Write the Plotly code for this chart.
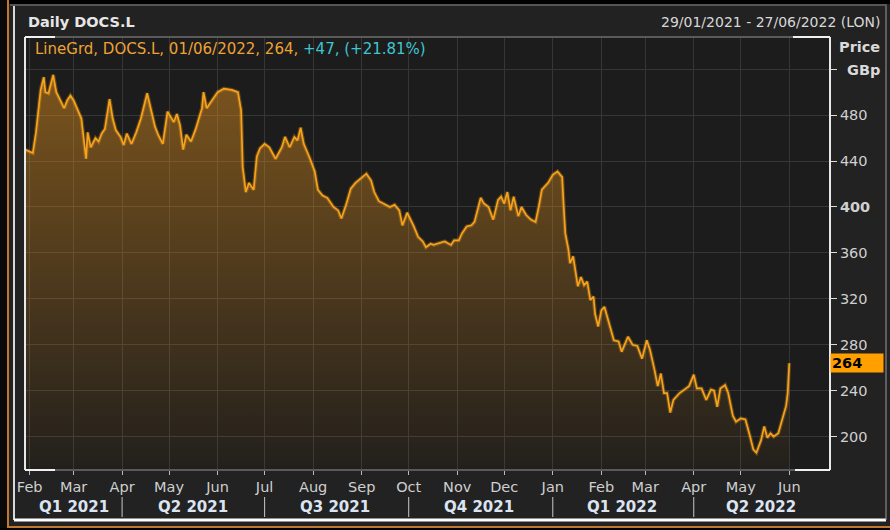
import plotly.graph_objects as go

# ---------------- data ----------------
dates = [
    "2021-01-29", "2021-02-03", "2021-02-05", "2021-02-08", "2021-02-10", "2021-02-11",
    "2021-02-13", "2021-02-16", "2021-02-18", "2021-02-20", "2021-02-23", "2021-02-25",
    "2021-02-27", "2021-03-01", "2021-03-03", "2021-03-06", "2021-03-09", "2021-03-10",
    "2021-03-12", "2021-03-15", "2021-03-17", "2021-03-19", "2021-03-21", "2021-03-24",
    "2021-03-26", "2021-03-28", "2021-03-31", "2021-04-02", "2021-04-04", "2021-04-07",
    "2021-04-10", "2021-04-13", "2021-04-17", "2021-04-20", "2021-04-22", "2021-04-24",
    "2021-04-27", "2021-04-30", "2021-05-04", "2021-05-06", "2021-05-08", "2021-05-10",
    "2021-05-12", "2021-05-15", "2021-05-18", "2021-05-22", "2021-05-23", "2021-05-25",
    "2021-05-28", "2021-06-01", "2021-06-05", "2021-06-10", "2021-06-14", "2021-06-16",
    "2021-06-17", "2021-06-19", "2021-06-21", "2021-06-24", "2021-06-26", "2021-06-28",
    "2021-07-01", "2021-07-04", "2021-07-08", "2021-07-12", "2021-07-14", "2021-07-17",
    "2021-07-20", "2021-07-22", "2021-07-24", "2021-07-26", "2021-07-30", "2021-08-02",
    "2021-08-04", "2021-08-07", "2021-08-10", "2021-08-14", "2021-08-17", "2021-08-19",
    "2021-08-22", "2021-08-25", "2021-08-28", "2021-09-01", "2021-09-04", "2021-09-07",
    "2021-09-09", "2021-09-12", "2021-09-15", "2021-09-19", "2021-09-22", "2021-09-25",
    "2021-09-27", "2021-09-30", "2021-10-04", "2021-10-07", "2021-10-10", "2021-10-12",
    "2021-10-15", "2021-10-17", "2021-10-19", "2021-10-24", "2021-10-28", "2021-10-30",
    "2021-11-02", "2021-11-04", "2021-11-07", "2021-11-10", "2021-11-12", "2021-11-14",
    "2021-11-16", "2021-11-18", "2021-11-21", "2021-11-24", "2021-11-27", "2021-11-29",
    "2021-12-01", "2021-12-03", "2021-12-05", "2021-12-07", "2021-12-10", "2021-12-12",
    "2021-12-15", "2021-12-18", "2021-12-21", "2021-12-23", "2021-12-25", "2021-12-29",
    "2022-01-01", "2022-01-04", "2022-01-07", "2022-01-08", "2022-01-09", "2022-01-11",
    "2022-01-12", "2022-01-14", "2022-01-16", "2022-01-17", "2022-01-19", "2022-01-21",
    "2022-01-23", "2022-01-25", "2022-01-27", "2022-01-28", "2022-01-30", "2022-02-01",
    "2022-02-03", "2022-02-06", "2022-02-09", "2022-02-12", "2022-02-14", "2022-02-18",
    "2022-02-21", "2022-02-24", "2022-02-27", "2022-03-02", "2022-03-04", "2022-03-07",
    "2022-03-09", "2022-03-11", "2022-03-13", "2022-03-15", "2022-03-17", "2022-03-19",
    "2022-03-23", "2022-03-26", "2022-03-29", "2022-04-01", "2022-04-03", "2022-04-06",
    "2022-04-09", "2022-04-12", "2022-04-14", "2022-04-16", "2022-04-18", "2022-04-21",
    "2022-04-23", "2022-04-26", "2022-04-28", "2022-05-01", "2022-05-04", "2022-05-07",
    "2022-05-09", "2022-05-11", "2022-05-14", "2022-05-16", "2022-05-18", "2022-05-20",
    "2022-05-22", "2022-05-25", "2022-05-27", "2022-05-29", "2022-05-30", "2022-05-31",
    "2022-06-01",
]
prices = [
    450, 447, 465, 502, 513, 500,
    499, 515, 500, 494, 486, 493,
    497, 493, 486, 477, 442, 465,
    452, 460, 457, 464, 468, 494,
    477, 467, 461, 454, 464, 455,
    465, 477, 499, 483, 470, 463,
    455, 483, 474, 481, 471, 450,
    463, 457, 468, 486, 500, 486,
    492, 500, 503, 502, 500, 484,
    435, 413, 421, 415, 444, 451,
    455, 452, 442, 452, 461, 452,
    461, 458, 469, 455, 442, 431,
    415, 410, 408, 400, 397, 390,
    402, 416, 421, 426, 429, 423,
    413, 405, 403, 400, 402, 397,
    384, 395, 384, 374, 370, 365,
    368, 367, 368, 370, 367, 371,
    371, 377, 383, 384, 387, 397,
    408, 403, 400, 389, 406, 409,
    403, 413, 397, 409, 392, 400,
    393, 389, 387, 400, 415, 421,
    428, 431, 426, 400, 377, 363,
    351, 357, 342, 331, 339, 332,
    335, 319, 322, 307, 296, 310,
    313, 299, 284, 283, 274, 287,
    280, 279, 268, 284, 276, 258,
    244, 255, 238, 238, 221, 232,
    238, 241, 244, 254, 242, 242,
    232, 241, 240, 226, 242, 245,
    238, 218, 213, 216, 215, 200,
    189, 186, 197, 209, 199, 203,
    200, 203, 212, 221, 227, 238,
    264,
]

y_ticks = [200, 240, 280, 320, 360, 400, 440, 480, 520]
y_tick_text = ["200", "240", "280", "320", "360", "<b>400</b>", "440", "480", ""]

quarter_starts = ["2021-04-01", "2021-07-01", "2021-10-01", "2022-01-01", "2022-04-01"]
quarter_mids = ["2021-03-01", "2021-05-16", "2021-08-15", "2021-11-15", "2022-02-14", "2022-05-14"]
quarter_labels = ["Q1 2021", "Q2 2021", "Q3 2021", "Q4 2021", "Q1 2022", "Q2 2022"]

last_price = 264
x_range = ["2021-01-29", "2022-06-27"]
y_range = [171, 548]

# ---------------- figure ----------------
W, H = 890, 530
L, R, T, B = 25, 60, 37, 60
PW, PH = W - L - R, H - T - B


def px(xp):
    return (xp - L) / PW


def py(yp):
    return (H - B - yp) / PH


FONT = "DejaVu Sans"
ORANGE = "#f7a21b"
fig = go.Figure()
fig.add_trace(go.Scatter(
    x=dates, y=prices, mode="lines",
    line=dict(color="rgba(247,162,27,0)", width=0),
    fill="tozeroy",
    fillgradient=dict(
        type="vertical", start=y_range[0], stop=y_range[1],
        colorscale=[[0, "rgba(235,150,30,0.03)"], [1, "rgba(235,150,30,0.50)"]],
    ),
    hoverinfo="skip", showlegend=False,
))
# soft glow under the price line
fig.add_trace(go.Scatter(
    x=dates, y=prices, mode="lines",
    line=dict(color="rgba(247,162,27,0.28)", width=4),
    hoverinfo="skip", showlegend=False,
))
fig.add_trace(go.Scatter(
    x=dates, y=prices, mode="lines",
    line=dict(color=ORANGE, width=1.7),
    hoverinfo="skip", showlegend=False,
))

shapes = []
# frame of plot area
shapes.append(dict(type="line", xref="paper", yref="paper", x0=0, x1=1, y0=1, y1=1,
                   line=dict(color="#5a5a5a", width=2)))
shapes.append(dict(type="line", xref="paper", yref="paper", x0=0, x1=1, y0=0, y1=0,
                   line=dict(color="#5a5a5a", width=2)))
shapes.append(dict(type="line", xref="paper", yref="paper", x0=0, x1=0, y0=0, y1=1,
                   line=dict(color="#e8e8e8", width=2)))
shapes.append(dict(type="line", xref="paper", yref="paper", x0=1, x1=1, y0=0, y1=1,
                   line=dict(color="#e8e8e8", width=2)))
for (a, b, yy) in [(25, 55, 1), (25, 55, 0), (793, 830, 1), (795, 830, 0)]:
    shapes.append(dict(type="line", xref="paper", yref="paper", x0=px(a), x1=px(b), y0=yy, y1=yy,
                       line=dict(color="#f0f0f0", width=2)))
# outer panel decorations
shapes.append(dict(type="rect", xref="paper", yref="paper", x0=px(-5), x1=px(W + 5), y0=py(-5), y1=py(4),
                   fillcolor="#000000", line=dict(width=0), layer="below"))
shapes.append(dict(type="line", xref="paper", yref="paper", x0=px(10), x1=px(887), y0=py(5), y1=py(5),
                   line=dict(color="#8a8a8a", width=1)))
shapes.append(dict(type="rect", xref="paper", yref="paper", x0=px(-5), x1=px(7), y0=py(-5), y1=py(H + 5),
                   fillcolor="#0a0a0a", line=dict(width=0), layer="below"))
shapes.append(dict(type="line", xref="paper", yref="paper", x0=px(8), x1=px(8), y0=py(0), y1=py(528),
                   line=dict(color="#c07830", width=2)))
shapes.append(dict(type="line", xref="paper", yref="paper", x0=px(8), x1=px(W), y0=py(527), y1=py(527),
                   line=dict(color="#c07830", width=2)))
shapes.append(dict(type="rect", xref="paper", yref="paper", x0=px(-5), x1=px(W + 5), y0=py(528), y1=py(H + 5),
                   fillcolor="#000000", line=dict(width=0), layer="below"))
shapes.append(dict(type="line", xref="paper", yref="paper", x0=px(14), x1=px(14), y0=py(6), y1=py(520),
                   line=dict(color="#d8d8d8", width=2)))
shapes.append(dict(type="line", xref="paper", yref="paper", x0=px(14), x1=px(886), y0=py(520), y1=py(520),
                   line=dict(color="#ffffff", width=3)))
shapes.append(dict(type="line", xref="paper", yref="paper", x0=px(886), x1=px(886), y0=py(6), y1=py(520),
                   line=dict(color="#9a9a9a", width=1)))
# quarter separators
for q in quarter_starts:
    shapes.append(dict(type="line", xref="x", yref="paper", x0=q, x1=q, y0=py(497), y1=py(517),
                       line=dict(color="#c8c8c8", width=1)))

annotations = []
annotations.append(dict(xref="paper", yref="paper", x=px(26), y=py(22), xanchor="left", yanchor="middle",
                        text="<b>Daily DOCS.L</b>", showarrow=False,
                        font=dict(family=FONT, size=14.5, color="#e6e6e6")))
annotations.append(dict(xref="paper", yref="paper", x=px(883), y=py(22), xanchor="right", yanchor="middle",
                        text="29/01/2021 - 27/06/2022 (LON)", showarrow=False,
                        font=dict(family=FONT, size=14, color="#d8d8d8")))
annotations.append(dict(xref="paper", yref="paper", x=px(33), y=py(49), xanchor="left", yanchor="middle",
                        text=('<span style="color:#eda235">LineGrd, DOCS.L, 01/06/2022, 264, </span>'
                              '<span style="color:#3fc6d2">+47, (+21.81%)</span>'),
                        showarrow=False, font=dict(family=FONT, size=15)))
annotations.append(dict(xref="paper", yref="paper", x=px(882), y=py(47), xanchor="right", yanchor="middle",
                        text="<b>Price</b>", showarrow=False,
                        font=dict(family=FONT, size=14.5, color="#dadada")))
annotations.append(dict(xref="paper", yref="paper", x=px(882), y=py(70), xanchor="right", yanchor="middle",
                        text="<b>GBp</b>", showarrow=False,
                        font=dict(family=FONT, size=14.5, color="#dadada")))
annotations.append(dict(xref="paper", yref="y", x=1, y=last_price, xanchor="left", yanchor="middle",
                        text="<b>%d</b>" % last_price, showarrow=False, align="left",
                        bgcolor="#ffa000", width=50, borderpad=1,
                        font=dict(family=FONT, size=14.5, color="#000000")))
for qm, ql in zip(quarter_mids, quarter_labels):
    annotations.append(dict(xref="x", yref="paper", x=qm, y=py(507), xanchor="center", yanchor="middle",
                            text="<b>%s</b>" % ql, showarrow=False,
                            font=dict(family=FONT, size=15, color="#dce4f2")))

fig.update_layout(
    width=W, height=H,
    margin=dict(l=L, r=R, t=T, b=B, pad=0, autoexpand=False),
    paper_bgcolor="#222222",
    plot_bgcolor="#1c1c1c",
    shapes=shapes,
    annotations=annotations,
    showlegend=False,
    xaxis=dict(
        type="date", range=x_range,
        tick0="2021-02-01", dtick="M1", tickformat="%b",
        showgrid=True, gridcolor="#363636", gridwidth=1,
        ticks="outside", ticklen=4, tickcolor="#bbbbbb",
        tickfont=dict(family=FONT, size=14.5, color="#cfcfcf"),
        showline=False, zeroline=False, fixedrange=True, automargin=False,
    ),
    yaxis=dict(
        side="right", range=y_range,
        tickvals=y_ticks, ticktext=y_tick_text,
        showgrid=True, gridcolor="#363636", gridwidth=1,
        ticks="outside", ticklen=6, tickcolor="#dddddd",
        tickfont=dict(family=FONT, size=14.5, color="#d0d0d0"),
        showline=False, zeroline=False, fixedrange=True, automargin=False,
    ),
)

fig.write_html(
    "out.html",
    config={"displayModeBar": False},
    post_script="document.body.style.margin='0';document.body.style.background='#000';",
)
